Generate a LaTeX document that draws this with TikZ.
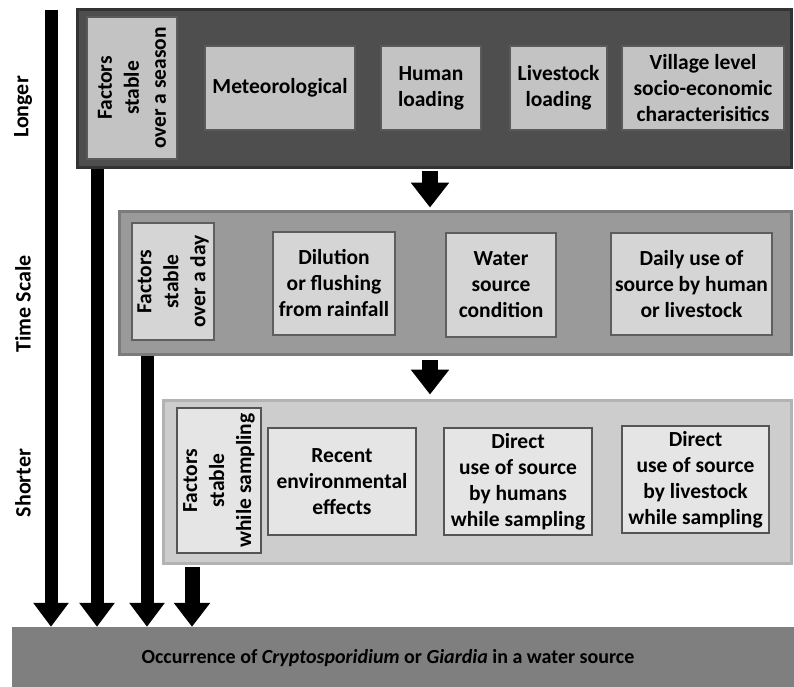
\documentclass[tikz,border=0pt]{standalone}
\usepackage{fontspec}
\setmainfont{Carlito}
\usetikzlibrary{arrows.meta}
\definecolor{pA}{HTML}{4E4E4E}
\definecolor{pAd}{HTML}{333333}
\definecolor{bA}{HTML}{C3C3C3}
\definecolor{bAd}{HTML}{5A5A5A}
\definecolor{pB}{HTML}{9A9A9A}
\definecolor{pBd}{HTML}{7B7B7B}
\definecolor{bB}{HTML}{D5D5D5}
\definecolor{bBd}{HTML}{5E5E5E}
\definecolor{pC}{HTML}{CDCDCD}
\definecolor{pCd}{HTML}{B3B3B3}
\definecolor{bC}{HTML}{E5E5E5}
\definecolor{bCd}{HTML}{555555}
\definecolor{barc}{HTML}{7F7F7F}
\begin{document}
\begin{tikzpicture}[x=1pt,y=-1pt,
  font=\bfseries\fontsize{21.5}{26}\selectfont,
  panel/.style={draw, line width=3pt, inner sep=0pt},
  fbox/.style={draw, line width=1.2pt, inner sep=0pt, align=center},
  vbox/.style={fbox, rotate=90},
  vtext/.style={rotate=90, align=center, inner sep=0pt, font=\bfseries\fontsize{21.5}{27}\selectfont},
  side/.style={rotate=90, inner sep=0pt, font=\bfseries\fontsize{22}{26}\selectfont},
  bigarrow/.style={line width=13pt, -{Triangle[width=34pt,length=24pt]}},
  midarrow/.style={line width=16pt, -{Triangle[width=37pt,length=25pt]}}]
\useasboundingbox (0,0) rectangle (794,687);

% panels
\node[panel, fill=pA, draw=pAd, minimum width=714pt, minimum height=158pt] (P1) at (434.5,89) {};
\node[panel, fill=pB, draw=pBd, minimum width=672pt, minimum height=143pt] (P2) at (455.5,282.5) {};
\node[panel, fill=pC, draw=pCd, minimum width=628pt, minimum height=163pt] (P3) at (477.5,481.5) {};
\node[fill=barc, inner sep=0pt, minimum width=782pt, minimum height=60pt] (bar) at (403,657) {};
\node[inner sep=0pt, font=\bfseries\fontsize{20}{24}\selectfont] (occ) at (388,658)
  {Occurrence of \textit{Cryptosporidium} or \textit{Giardia} in a water source};

% side labels
\node[side] (lng) at (23,107) {Longer};
\node[side] (ts) at (23,304) {Time Scale};
\node[side] (sht) at (23,483) {Shorter};

% top panel boxes
\node[vbox, fill=bA, draw=bAd, minimum width=142pt, minimum height=90pt] (f1) at (132,88) {};
\node[vtext] (t1) at (f1.center) {Factors\\stable\\over a season};
\node[fbox, fill=bA, draw=bAd, minimum width=150pt, minimum height=84pt] (met) at (280,88) {Meteorological};
\node[fbox, fill=bA, draw=bAd, minimum width=100pt, minimum height=84pt] (hum) at (431,88) {Human\\loading};
\node[fbox, fill=bA, draw=bAd, minimum width=97pt, minimum height=84pt] (liv) at (558.5,88) {Livestock\\loading};
\node[fbox, fill=bA, draw=bAd, minimum width=162pt, minimum height=84pt] (vil) at (703,88) {Village level\\socio-economic\\characterisitics};

% middle panel boxes
\node[vbox, fill=bB, draw=bBd, minimum width=117pt, minimum height=82pt] (f2) at (173,281.5) {};
\node[vtext] (t2) at (f2.center) {Factors\\stable\\over a day};
\node[fbox, fill=bB, draw=bBd, minimum width=122pt, minimum height=103pt] (dil) at (334,283.5) {Dilution\\or flushing\\from rainfall};
\node[fbox, fill=bB, draw=bBd, minimum width=110pt, minimum height=104pt] (wat) at (501,285) {Water\\source\\condition};
\node[fbox, fill=bB, draw=bBd, minimum width=161pt, minimum height=102pt] (dai) at (691.5,284) {Daily use of\\source by human\\or livestock};

% bottom panel boxes
\node[vbox, fill=bC, draw=bCd, minimum width=145pt, minimum height=84pt] (f3) at (219,480.5) {};
\node[vtext] (t3) at (f3.center) {Factors\\stable\\while sampling};
\node[fbox, fill=bC, draw=bCd, minimum width=148pt, minimum height=107pt] (rec) at (342,481.5) {Recent\\environmental\\effects};
\node[fbox, fill=bC, draw=bCd, minimum width=148pt, minimum height=107pt] (dhu) at (518,481.5) {Direct\\use of source\\by humans\\while sampling};
\node[fbox, fill=bC, draw=bCd, minimum width=147pt, minimum height=107pt] (dli) at (695.5,479.5) {Direct\\use of source\\by livestock\\while sampling};

% arrow columns
\coordinate (c1) at (51,10);
\coordinate (c2) at (97,0);
\coordinate (c3) at (147,0);
\coordinate (c4) at (192,0);
\coordinate (cm) at (430,0);

\draw[bigarrow] (c1) -- (bar.north -| c1);
\draw[bigarrow] (P1.south -| c2) -- (bar.north -| c2);
\draw[bigarrow] (P2.south -| c3) -- (bar.north -| c3);
\draw[line width=15pt, -{Triangle[width=35pt,length=24pt]}] ([yshift=-2pt]P3.south -| c4) -- (bar.north -| c4);

\draw[midarrow] ([yshift=-2pt]P1.south -| cm) -- ([yshift=2pt]P2.north -| cm);
\draw[midarrow] ([yshift=-4pt]P2.south -| cm) -- ([yshift=4pt]P3.north -| cm);
\end{tikzpicture}
\end{document}
